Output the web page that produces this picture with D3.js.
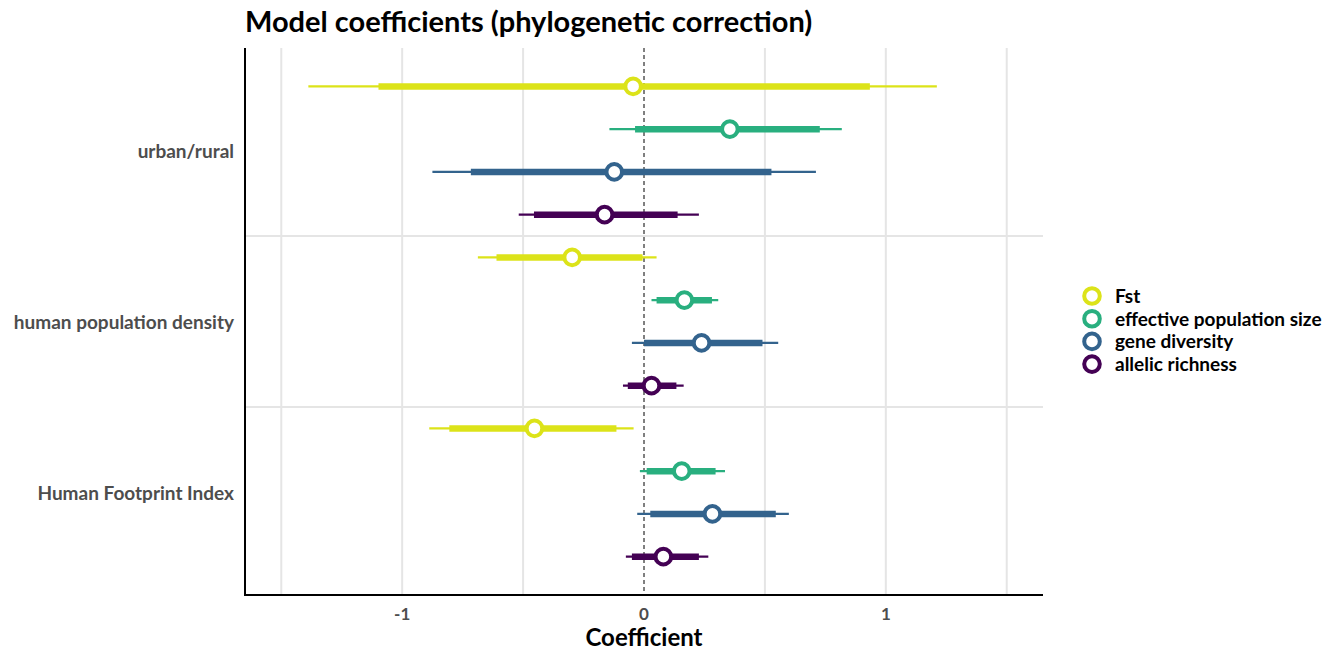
<!DOCTYPE html>
<html>
<head>
<meta charset="utf-8">
<script src="https://cdn.jsdelivr.net/npm/d3@7"></script>
<style>
  html, body { margin: 0; padding: 0; background: #fff; }
  svg { display: block; font-family: Lato, "Open Sans", sans-serif; }
</style>
</head>
<body>
<svg id="chart" width="1338" height="653"></svg>
<script>
// Predictors (rows) and response measures (series, top to bottom inside each row)
const predictors = ["urban/rural", "human population density", "Human Footprint Index"];
const measures = ["Fst", "effective population size", "gene diversity", "allelic richness"];
const measureColors = ["#DCE319", "#29AF7F", "#33638D", "#440154"];

// Posterior estimates per predictor, in measure order
const estimate = [
  [-0.045, 0.355, -0.123, -0.163],
  [-0.297, 0.167, 0.238, 0.031],
  [-0.453, 0.156, 0.283, 0.080]
];
// Inner (thick) interval
const innerLow = [
  [-1.098, -0.037, -0.716, -0.455],
  [-0.610, 0.052, 0.000, -0.067],
  [-0.805, 0.011, 0.026, -0.050]
];
const innerHigh = [
  [0.934, 0.727, 0.527, 0.139],
  [-0.006, 0.281, 0.490, 0.134],
  [-0.114, 0.296, 0.545, 0.227]
];
// Outer (thin) interval
const outerLow = [
  [-1.388, -0.143, -0.875, -0.518],
  [-0.687, 0.031, -0.050, -0.087],
  [-0.888, -0.017, -0.028, -0.075]
];
const outerHigh = [
  [1.211, 0.818, 0.711, 0.227],
  [0.052, 0.307, 0.555, 0.164],
  [-0.043, 0.335, 0.599, 0.266]
];
const xTicks = [-1, 0, 1];
const xGrid = [-1.5, -1, -0.5, 0.5, 1, 1.5];

const svg = d3.select("#chart");
const plotLeft = 245, plotRight = 1043, plotTop = 48, plotBottom = 595;

const x = d3.scaleLinear().domain([-1.65, 1.65]).range([plotLeft, plotRight]);
const yGroup = d3.scaleBand().domain(predictors).range([65, 578]);
const yInner = d3.scaleBand().domain(measures).range([0, yGroup.bandwidth()]);
const color = d3.scaleOrdinal().domain(measures).range(measureColors);

// Title
svg.append("text")
  .attr("x", plotLeft).attr("y", 32)
  .attr("font-size", 29).attr("font-weight", 700).attr("fill", "#000")
  .text("Model coefficients (phylogenetic correction)");

// Vertical grid
svg.append("g").selectAll("line").data(xGrid).join("line")
  .attr("x1", d => x(d)).attr("x2", d => x(d))
  .attr("y1", plotTop).attr("y2", plotBottom)
  .attr("stroke", "#e5e5e5").attr("stroke-width", 2);

// Horizontal separators between predictors
svg.append("g").selectAll("line").data(predictors.slice(1)).join("line")
  .attr("x1", plotLeft).attr("x2", plotRight)
  .attr("y1", d => yGroup(d)).attr("y2", d => yGroup(d))
  .attr("stroke", "#e5e5e5").attr("stroke-width", 2);

// Zero reference
svg.append("line")
  .attr("x1", x(0)).attr("x2", x(0)).attr("y1", plotTop).attr("y2", plotBottom)
  .attr("stroke", "#000").attr("stroke-width", 1).attr("stroke-dasharray", "4,3");

// Build rows
const rows = [];
predictors.forEach((p, i) => measures.forEach((m, j) => rows.push({
  predictor: p, measure: m,
  est: estimate[i][j], lo: innerLow[i][j], hi: innerHigh[i][j],
  lo2: outerLow[i][j], hi2: outerHigh[i][j]
})));
const yRow = d => yGroup(d.predictor) + yInner(d.measure) + yInner.bandwidth() / 2;

const marks = svg.append("g");
marks.selectAll("line.outer").data(rows).join("line").attr("class", "outer")
  .attr("x1", d => x(d.lo2)).attr("x2", d => x(d.hi2))
  .attr("y1", yRow).attr("y2", yRow)
  .attr("stroke", d => color(d.measure)).attr("stroke-width", 2.2);
marks.selectAll("line.inner").data(rows).join("line").attr("class", "inner")
  .attr("x1", d => x(d.lo)).attr("x2", d => x(d.hi))
  .attr("y1", yRow).attr("y2", yRow)
  .attr("stroke", d => color(d.measure)).attr("stroke-width", 6.5);
marks.selectAll("circle").data(rows).join("circle")
  .attr("cx", d => x(d.est)).attr("cy", yRow).attr("r", 7.8)
  .attr("fill", "#fff").attr("stroke", d => color(d.measure)).attr("stroke-width", 4);

// Axis lines
svg.append("line").attr("x1", plotLeft).attr("x2", plotLeft).attr("y1", plotTop).attr("y2", plotBottom + 1)
  .attr("stroke", "#000").attr("stroke-width", 2);
svg.append("line").attr("x1", plotLeft - 1).attr("x2", plotRight).attr("y1", plotBottom).attr("y2", plotBottom)
  .attr("stroke", "#000").attr("stroke-width", 2);

// X tick labels
svg.append("g").selectAll("text").data(xTicks).join("text")
  .attr("x", d => x(d)).attr("y", 620)
  .attr("text-anchor", "middle").attr("font-size", 17).attr("font-weight", 700)
  .attr("fill", "#4d4d4d")
  .text(d => d);

// X axis title
svg.append("text")
  .attr("x", x(0)).attr("y", 646).attr("text-anchor", "middle")
  .attr("font-size", 24).attr("font-weight", 700).attr("fill", "#000")
  .text("Coefficient");

// Y labels
svg.append("g").selectAll("text").data(predictors).join("text")
  .attr("x", 234).attr("y", d => yGroup(d) + yGroup.bandwidth() / 2 + 7)
  .attr("text-anchor", "end").attr("font-size", 19).attr("font-weight", 700)
  .attr("fill", "#4d4d4d")
  .text(d => d);

// Legend
const legend = svg.append("g").selectAll("g").data(measures).join("g")
  .attr("transform", (d, i) => `translate(1092, ${296 + i * 22.7})`);
legend.append("circle").attr("r", 7.8).attr("fill", "#fff")
  .attr("stroke", d => color(d)).attr("stroke-width", 4);
legend.append("text").attr("x", 23).attr("y", 7)
  .attr("font-size", 19).attr("font-weight", 700).attr("fill", "#000")
  .text(d => d);
</script>
</body>
</html>
